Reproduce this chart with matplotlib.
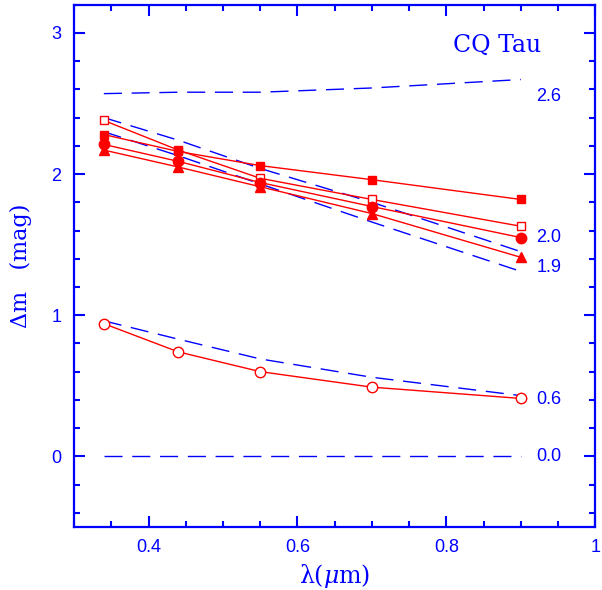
import matplotlib
matplotlib.use("Agg")
import matplotlib.pyplot as plt
from matplotlib.ticker import MultipleLocator

# длины волн UBVRI, мкм
wl = [0.34, 0.44, 0.55, 0.70, 0.90]

# наблюдаемые избытки, разные эпохи
obs_sq_open = [2.38, 2.17, 1.97, 1.82, 1.63]
obs_sq_fill = [2.28, 2.16, 2.06, 1.96, 1.82]
obs_circ_fill = [2.21, 2.09, 1.94, 1.77, 1.55]
obs_tri = [2.17, 2.05, 1.91, 1.72, 1.41]
obs_circ_open = [0.94, 0.74, 0.60, 0.49, 0.41]

# модельные кривые
mod_26 = [2.57, 2.58, 2.58, 2.61, 2.67]
mod_20 = [2.40, 2.24, 2.04, 1.80, 1.45]
mod_19 = [2.30, 2.13, 1.93, 1.66, 1.31]
mod_06 = [0.96, 0.83, 0.69, 0.56, 0.43]
mod_00 = [0.0, 0.0, 0.0, 0.0, 0.0]
mod_names = ['2.6', '2.0', '1.9', '0.6', '0.0']

blue = '#0000ff'
red = '#ff0000'

plt.rcParams['font.family'] = ['Liberation Sans', 'DejaVu Sans']
plt.rcParams['mathtext.fontset'] = 'dejavuserif'

fig = plt.figure(figsize=(6.02, 5.90), dpi=100)
ax = fig.add_axes([0.123, 0.107, 0.866, 0.885])

# модели - синий пунктир
label_y = [2.55, 1.55, 1.34, 0.40, 0.0]
for m, name, ly in zip([mod_26, mod_20, mod_19, mod_06, mod_00], mod_names, label_y):
    ax.plot(wl, m, color=blue, lw=1.0, dashes=(13, 7))
    ax.text(0.921, ly, name, color=blue, fontsize=13, va='center', ha='left')

# наблюдения - красные линии с маркерами
ax.plot(wl, obs_sq_open, color=red, lw=1.0, marker='s', ms=6, mfc='white', mec=red, mew=1.0)
ax.plot(wl, obs_sq_fill, color=red, lw=1.0, marker='s', ms=6, mfc=red, mec=red)
ax.plot(wl, obs_tri, color=red, lw=1.0, marker='^', ms=6.5, mfc=red, mec=red)
ax.plot(wl, obs_circ_fill, color=red, lw=1.0, marker='o', ms=7.5, mfc=red, mec=red)
ax.plot(wl, obs_circ_open, color=red, lw=1.0, marker='o', ms=7.5, mfc='white', mec=red, mew=1.0)

ax.text(0.868, 2.91, 'CQ Tau', color=blue, fontsize=17, family='DejaVu Serif',
        ha='center', va='center')

ax.set_xlim(0.3, 1.0)
ax.set_ylim(-0.5, 3.2)
ax.xaxis.set_major_locator(MultipleLocator(0.2))
ax.xaxis.set_minor_locator(MultipleLocator(0.05))
ax.yaxis.set_major_locator(MultipleLocator(1))
ax.yaxis.set_minor_locator(MultipleLocator(0.2))
ax.set_xticks([0.4, 0.6, 0.8, 1.0])
ax.set_xticklabels(['0.4', '0.6', '0.8', '1'])

ax.tick_params(which='both', direction='in', top=True, right=True, colors=blue,
               labelcolor=blue, labelsize=13, width=1.5)
ax.tick_params(which='major', length=8, pad=9)
ax.tick_params(which='minor', length=4.5)
for s in ax.spines.values():
    s.set_color(blue)
    s.set_linewidth(1.6)

ax.set_xlabel(r'λ$(\mu$m$)$', color=blue, fontsize=17, family='DejaVu Serif', labelpad=4)
ax.set_ylabel('Δm   (mag)', color=blue, fontsize=16, family='DejaVu Serif', labelpad=14)

plt.savefig('out.png', dpi=100)
